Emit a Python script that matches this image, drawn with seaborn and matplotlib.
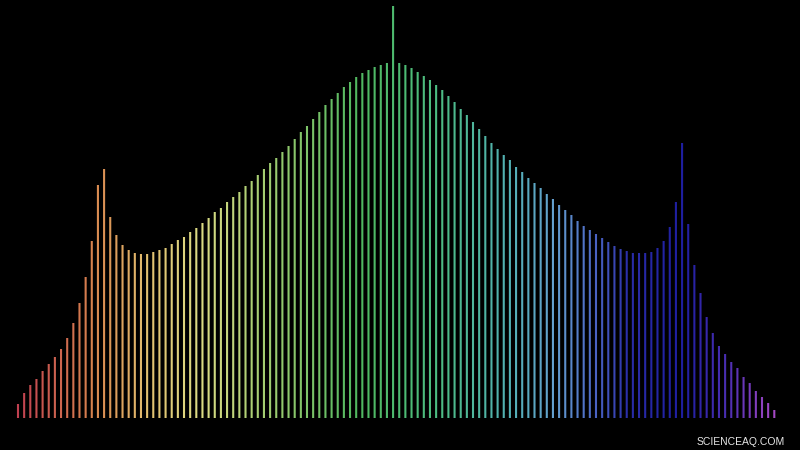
import numpy as np
import pandas as pd
import matplotlib
matplotlib.use("Agg")
import matplotlib.pyplot as plt
import seaborn as sns
from matplotlib.colors import LinearSegmentedColormap

# line heights above the baseline, read left to right (124 lines)
rise_left = [14, 25, 33, 39, 47, 54, 61, 69, 80, 95, 115, 141, 177, 233, 249, 201,
             183, 173, 168, 165]
dip_left = [164, 164, 166, 168, 170, 174, 178, 181, 186, 190, 195, 200, 206, 210, 216,
            221, 226, 232, 237, 243, 249]
climb = [255, 260, 266, 272, 279, 286, 292, 299, 306, 313, 319, 325, 331, 336, 341,
         345, 348, 351, 353, 355]
spike = [412]
descend = [355, 353, 350, 346, 342, 338, 333, 328, 322, 316, 309, 303, 296, 289, 282,
           275, 269, 263, 258]
dip_right = [251, 246, 240, 235, 230, 224, 219, 213, 208, 203, 197, 192, 188, 184, 180,
             176, 172, 169, 167, 165, 165]
fall_right = [165, 166, 170, 177, 191, 216, 275, 194, 153, 125, 101, 85, 72, 64, 56, 50,
              41, 35, 27, 21, 15, 8]

heights = rise_left + dip_left + climb + spike + descend + dip_right + fall_right
line_ids = list(range(len(heights)))

df = pd.DataFrame({"line": line_ids, "height": heights})

# spectrum running red -> yellow -> green -> cyan -> blue -> violet
spectrum = LinearSegmentedColormap.from_list("spectrum", [
    (0.00, "#c04050"),
    (0.10, "#d8864e"),
    (0.17, "#e2c070"),
    (0.24, "#dcdc84"),
    (0.33, "#a0cc70"),
    (0.45, "#50b860"),
    (0.55, "#4cbc80"),
    (0.65, "#52b0b4"),
    (0.71, "#64a0d0"),
    (0.76, "#4c68c4"),
    (0.81, "#2a2ca8"),
    (0.88, "#1e1ea0"),
    (0.94, "#4a2eb2"),
    (1.00, "#a448c4"),
])
colors = [spectrum(v) for v in np.linspace(0, 1, len(heights))]

fig = plt.figure(figsize=(8, 4.5), dpi=100, facecolor="black")
ax = fig.add_axes([0, 0, 1, 1])
ax.set_facecolor("black")

sns.barplot(data=df, x="line", y="height", hue="line", palette=colors,
            width=0.34, saturation=1, linewidth=0, legend=False, ax=ax)
# keep the thin lines evenly wide instead of snapping to whole pixels
for bar in ax.patches:
    bar.set_snap(False)

step = (774.3 - 18) / (len(heights) - 1)
ax.set_xlim(-18 / step, (800 - 18) / step)
ax.set_ylim(-32, 418)
ax.set_axis_off()

fig.text(785 / 800, 5 / 450, "SCIENCEAQ.COM", color="#e6e6e6", fontsize=7.5,
         family="Liberation Sans", ha="right", va="baseline")

plt.savefig("out.png", dpi=100, facecolor="black")
